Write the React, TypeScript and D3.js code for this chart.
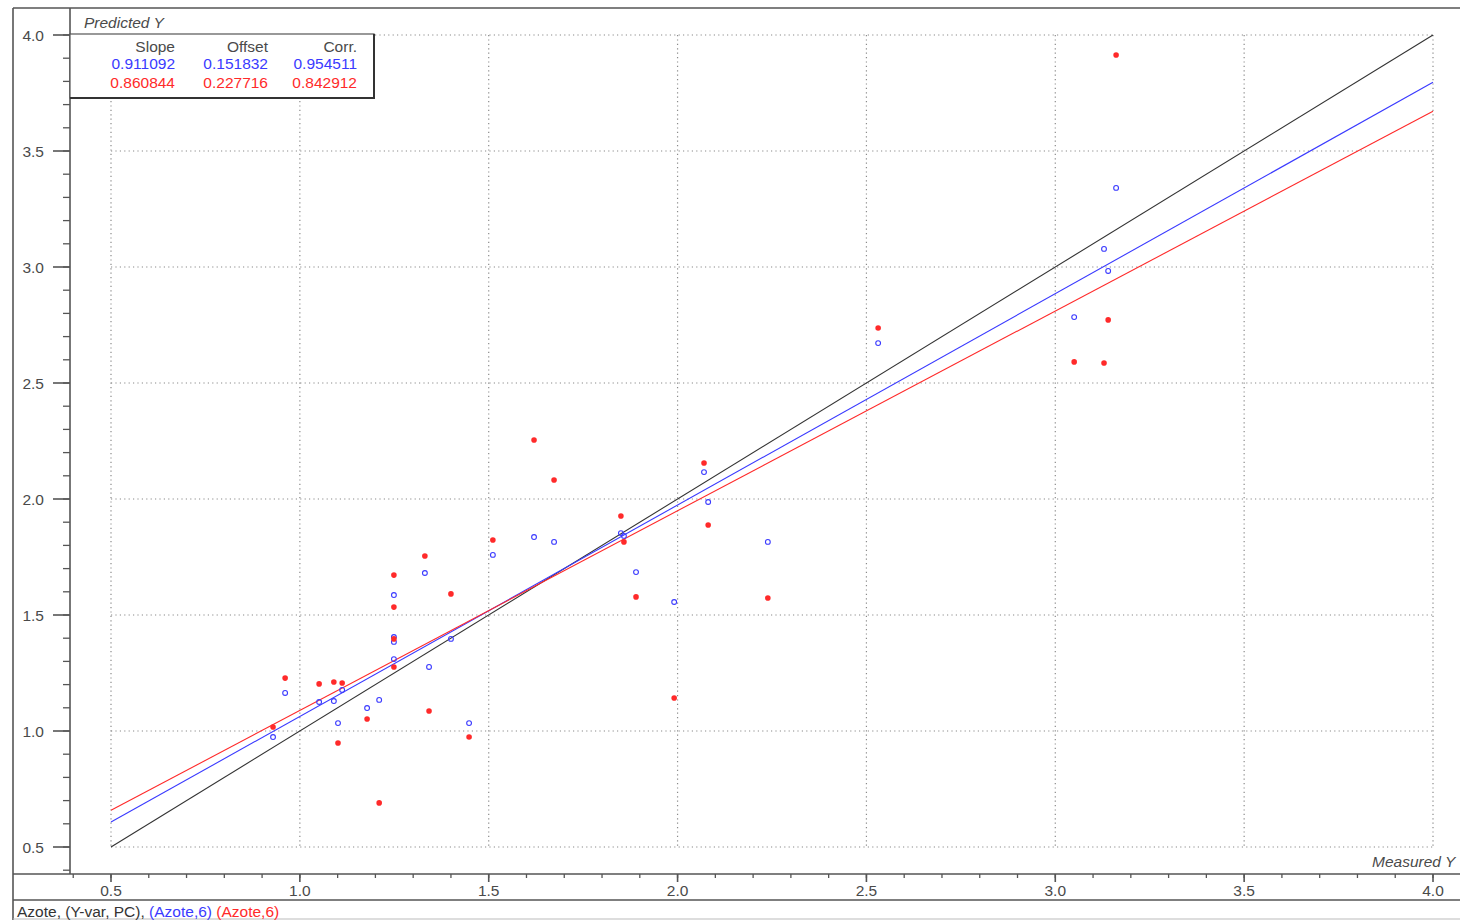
import React from "react";
import * as d3 from "d3";

const measured = [0.929, 0.961, 1.051, 1.09, 1.112, 1.101, 1.178, 1.21, 1.249, 1.249, 1.249, 1.249, 1.331, 1.342, 1.4, 1.448, 1.511, 1.62, 1.673, 1.85, 1.858, 1.89, 1.991, 2.07, 2.081, 2.239, 2.531, 3.05, 3.129, 3.14, 3.161];
const predBlue = [0.974, 1.164, 1.125, 1.129, 1.177, 1.034, 1.099, 1.134, 1.586, 1.405, 1.384, 1.31, 1.681, 1.276, 1.397, 1.034, 1.759, 1.836, 1.815, 1.853, 1.841, 1.685, 1.556, 2.116, 1.987, 1.815, 2.672, 2.784, 3.078, 2.983, 3.341];
const predRed = [1.017, 1.228, 1.203, 1.211, 1.207, 0.948, 1.052, 0.69, 1.672, 1.534, 1.397, 1.276, 1.754, 1.086, 1.591, 0.974, 1.823, 2.254, 2.082, 1.927, 1.815, 1.578, 1.142, 2.155, 1.888, 1.573, 2.737, 2.591, 2.586, 2.772, 3.914];

const statHeaders = ["Slope", "Offset", "Corr."];
const blueStats = ["0.911092", "0.151832", "0.954511"];
const redStats = ["0.860844", "0.227716", "0.842912"];
const blueFit = { slope: 0.911092, offset: 0.151832 };
const redFit = { slope: 0.860844, offset: 0.227716 };

const majorTicks = [0.5, 1.0, 1.5, 2.0, 2.5, 3.0, 3.5, 4.0];
const lineRange = [0.5, 4.0];

const BLUE = "#3a3aff";
const RED = "#ff2a2a";
const FRAME = "#555";
const TEXT = "#4a4a4a";
const FONT = "'Liberation Sans', Arial, sans-serif";
const FS = 15.5;

export default function App() {
  const x = d3.scaleLinear().domain([0.5, 4.0]).range([111, 1433]);
  const y = d3.scaleLinear().domain([0.5, 4.0]).range([847, 35]);

  const minorX = d3.range(4, 41).map((v) => v / 10).filter((v) => x(v) > 72 && x(v) < 1460);
  const minorY = d3.range(4, 41).map((v) => v / 10).filter((v) => y(v) < 872 && y(v) >= 34);

  const line = d3
    .line<number>()
    .x((d) => x(d))
    .y((d) => y(d));
  const fitLine = (f: { slope: number; offset: number }) =>
    d3
      .line<number>()
      .x((d) => x(d))
      .y((d) => y(f.slope * d + f.offset))(lineRange) as string;

  const colRight = [175, 268, 357];

  return (
    <svg
      width={1460}
      height={920}
      style={{ position: "absolute", left: 0, top: 0, background: "#fff" }}
      fontFamily={FONT}
    >
      <rect x={0} y={0} width={1460} height={920} fill="#fff" />
      {/* grid */}
      <g stroke="#8a8a8a" strokeWidth={1.2} strokeDasharray="1.2,3.2" fill="none">
        {majorTicks.map((t) => (
          <line key={"gx" + t} x1={x(t)} x2={x(t)} y1={y(4.0)} y2={y(0.5)} />
        ))}
        {majorTicks.map((t) => (
          <line key={"gy" + t} x1={x(0.5)} x2={x(4.0)} y1={y(t)} y2={y(t)} />
        ))}
      </g>

      {/* frame */}
      <g stroke={FRAME} fill="none">
        <line x1={13} x2={13} y1={8} y2={920} strokeWidth={1.6} />
        <line x1={13} x2={1460} y1={8} y2={8} strokeWidth={1.6} />
        <line x1={70} x2={70} y1={8} y2={874} strokeWidth={1.6} />
        <line x1={13} x2={1460} y1={874} y2={874} strokeWidth={1.6} />
        <line x1={13} x2={1460} y1={900} y2={900} strokeWidth={1.6} />
        <line x1={13} x2={1460} y1={919} y2={919} strokeWidth={1} stroke="#bbb" />
      </g>

      {/* y ticks */}
      <g stroke={FRAME} strokeWidth={1.3}>
        {minorY.map((t) => (
          <line key={"my" + t} x1={63} x2={70} y1={y(t)} y2={y(t)} />
        ))}
        {majorTicks.map((t) => (
          <line key={"My" + t} x1={53} x2={70} y1={y(t)} y2={y(t)} strokeWidth={1.6} />
        ))}
      </g>
      <g fill={TEXT} fontSize={FS} textAnchor="end">
        {majorTicks.map((t) => (
          <text key={"ly" + t} x={44} y={y(t) + 5.5}>
            {d3.format(".1f")(t)}
          </text>
        ))}
      </g>

      {/* x ticks */}
      <g stroke={FRAME} strokeWidth={1.3}>
        {minorX.map((t) => (
          <line key={"mx" + t} x1={x(t)} x2={x(t)} y1={874} y2={878} />
        ))}
        {majorTicks.map((t) => (
          <line key={"Mx" + t} x1={x(t)} x2={x(t)} y1={874} y2={882} strokeWidth={1.6} />
        ))}
      </g>
      <g fill={TEXT} fontSize={FS} textAnchor="middle">
        {majorTicks.map((t) => (
          <text key={"lx" + t} x={x(t)} y={896}>
            {d3.format(".1f")(t)}
          </text>
        ))}
      </g>

      {/* regression lines */}
      <path d={line(lineRange) as string} stroke="#333" strokeWidth={1.1} fill="none" />
      <path d={fitLine(blueFit)} stroke={BLUE} strokeWidth={1.1} fill="none" />
      <path d={fitLine(redFit)} stroke={RED} strokeWidth={1.1} fill="none" />

      {/* points */}
      <g>
        {measured.map((m, i) => (
          <circle key={"b" + i} cx={x(m)} cy={y(predBlue[i])} r={2.4} fill="none" stroke={BLUE} strokeWidth={1.1} />
        ))}
        {measured.map((m, i) => (
          <circle key={"r" + i} cx={x(m)} cy={y(predRed[i])} r={2.8} fill={RED} />
        ))}
      </g>

      {/* legend box */}
      <rect x={70} y={34} width={304} height={64} fill="#fff" stroke={FRAME} strokeWidth={1.2} />
      <line x1={70} x2={375} y1={98} y2={98} stroke="#333" strokeWidth={2} />
      <line x1={374} x2={374} y1={34} y2={99} stroke="#333" strokeWidth={2} />
      <g fontSize={FS} textAnchor="end">
        {statHeaders.map((h, i) => (
          <text key={"h" + i} x={colRight[i]} y={51.5} fill={TEXT}>
            {h}
          </text>
        ))}
        {blueStats.map((s, i) => (
          <text key={"bs" + i} x={colRight[i]} y={68.5} fill={BLUE}>
            {s}
          </text>
        ))}
        {redStats.map((s, i) => (
          <text key={"rs" + i} x={colRight[i]} y={87.5} fill={RED}>
            {s}
          </text>
        ))}
      </g>

      {/* axis titles */}
      <text x={84} y={27.5} fontSize={FS} fontStyle="italic" fill={TEXT}>
        Predicted Y
      </text>
      <text x={1372} y={867} fontSize={FS} fontStyle="italic" fill={TEXT}>
        Measured Y
      </text>

      {/* footer */}
      <text x={17} y={916.5} fontSize={FS} fill="#333">
        <tspan>Azote, (Y-var, PC), </tspan>
        <tspan fill={BLUE}>(Azote,6)</tspan>
        <tspan> </tspan>
        <tspan fill={RED}>(Azote,6)</tspan>
      </text>
    </svg>
  );
}
